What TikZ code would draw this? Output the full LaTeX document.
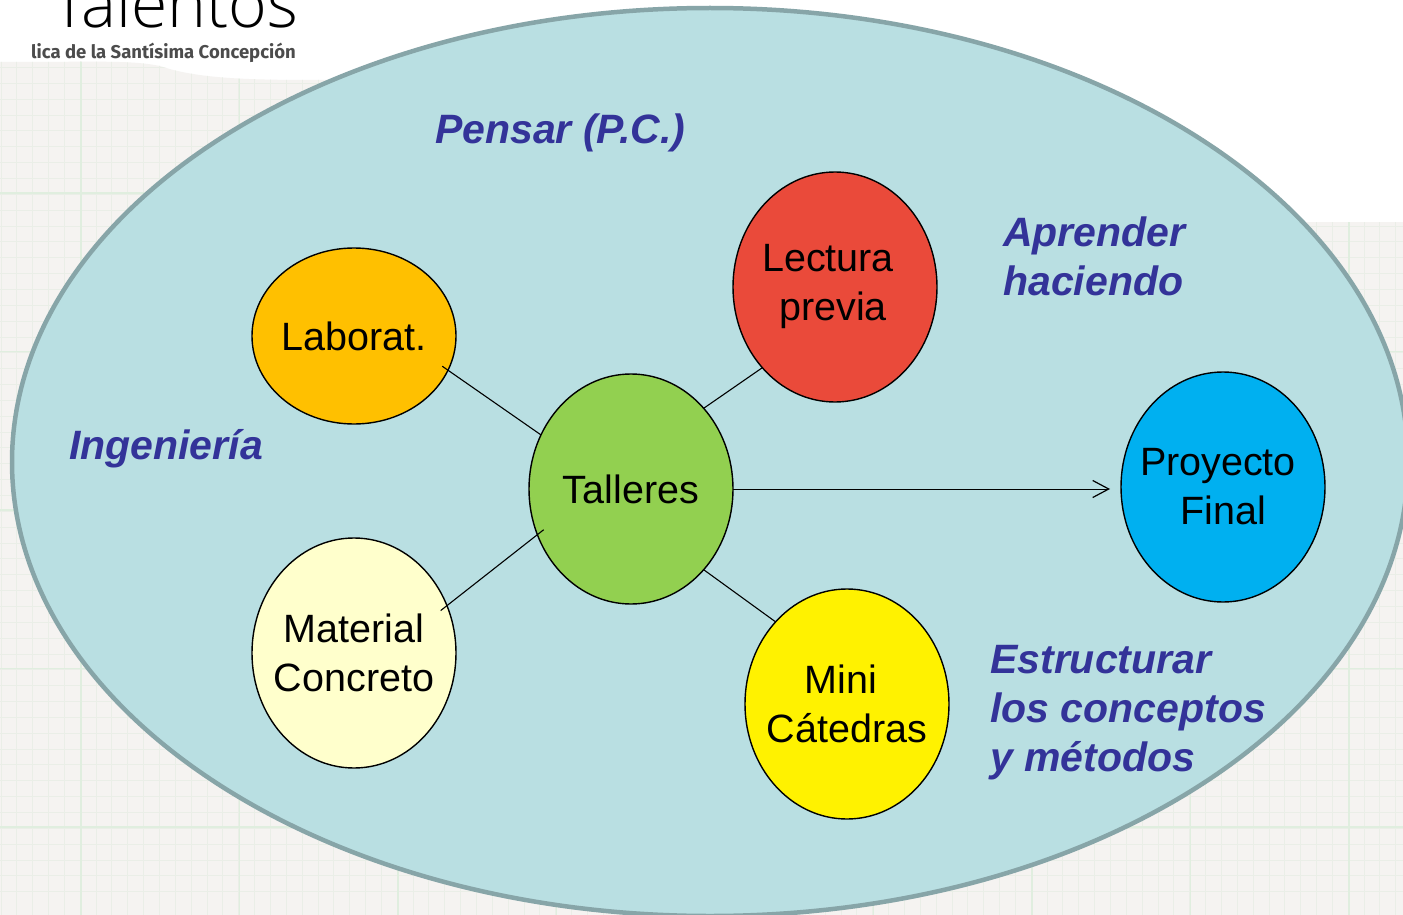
\documentclass[tikz,border=0pt]{standalone}
\usepackage{fontspec}
\setmainfont{Liberation Sans}
\newfontfamily\logofont{Open Sans Light}
\newfontfamily\subfont{Fira Sans}
\usetikzlibrary{shapes.geometric,arrows.meta}
\definecolor{paper}{HTML}{F5F3F1}
\definecolor{gridminor}{HTML}{EAEEE7}
\definecolor{gridmajor}{HTML}{E0EEDF}
\definecolor{pool}{HTML}{B9DFE2}
\definecolor{poolline}{HTML}{87A5A8}
\definecolor{labelblue}{HTML}{333399}
\tikzset{
  x=1pt,y=-1pt,
  bubble/.style={ellipse,draw=black,line width=1.4pt,minimum width=204pt,minimum height=230pt,inner sep=-40pt,outer sep=0pt,align=center,font=\fontsize{39.5}{49}\selectfont,text=black},
  note/.style={anchor=west,align=left,font=\fontsize{41}{49}\selectfont\bfseries\itshape,text=labelblue,inner sep=0pt},
  link/.style={line width=1.1pt,draw=black},
  flow/.style={line width=1pt,draw=black,-{Straight Barb[length=16pt,width=17pt,line width=1.2pt]}},
  gridm/.style={draw=gridminor,line width=1pt},
  gridM/.style={draw=gridmajor,line width=1.5pt},
}
\begin{document}
\begin{tikzpicture}
\useasboundingbox (0,0) rectangle (1403,915);
\clip (0,0) rectangle (1403,915);
\fill[white] (0,0) rectangle (1403,915);
% graph paper, left and bottom
\begin{scope}
\clip (0,62) .. controls (100,62) and (130,60) .. (160,66) .. controls (200,80) and (260,80) .. (330,80) -- (1403,80) -- (1403,915) -- (0,915) -- cycle;
\fill[paper] (0,60) rectangle (1403,915);
\foreach \gi in {0,...,90} \draw[gridm] (\gi*15.85+1,60) -- (\gi*15.85+1,915);
\foreach \gi in {0,...,55} \draw[gridm] (0,\gi*15.85+20) -- (1403,\gi*15.85+20);
\foreach \gi in {0,...,8} \draw[gridM] (\gi*158.5+81,60) -- (\gi*158.5+81,915);
\foreach \gi in {0,...,4} \draw[gridM] (0,\gi*158.5+193) -- (1403,\gi*158.5+193);
\end{scope}
% white patch top right of the paper
\fill[white] (330,0) rectangle (1403,222);
% logo
\node[anchor=base west,inner sep=0pt,font=\logofont\fontsize{66}{66}\selectfont,text=black] (logo) at (52,28) {Talentos};
\node[anchor=base east,inner sep=0pt,font=\subfont\fontsize{18.5}{20}\selectfont\bfseries,text=black!70] (sub) at (296,59) {lica de la Santísima Concepción};
% large pool
\node[ellipse,draw=poolline,fill=pool,line width=4.5pt,minimum width=1396pt,minimum height=908pt,inner sep=0pt,outer sep=0pt] (pool) at (710,462) {};
% bubbles
\node[bubble,fill={rgb,255:red,146;green,208;blue,80}] (tal) at (631,489) {\raisebox{-2pt}{Talleres}};
\node[bubble,fill={rgb,255:red,255;green,192;blue,0},minimum height=176pt] (lab) at (354,336) {\raisebox{-2pt}{Laborat.}};
\node[bubble,fill={rgb,255:red,234;green,74;blue,58}] (lec) at (835,287) {\raisebox{-6pt}{\hspace*{-14pt}Lectura}\\\raisebox{-6pt}{previa\hspace*{4pt}}};
\node[bubble,fill={rgb,255:red,255;green,255;blue,204}] (mat) at (354,653) {Material\\Concreto};
\node[bubble,fill=yellow] (min) at (847,704) {\hspace*{-12pt}Mini\\Cátedras};
\node[bubble,fill={rgb,255:red,0;green,176;blue,240}] (pro) at (1223,487) {\raisebox{-2pt}{\hspace*{-10pt}Proyecto}\\\raisebox{-2pt}{Final}};
% connectors
\draw[link,shorten <=-7pt] (lab.-20.8) -- (tal.149.5);
\draw[link] (tal.48) -- (lec.228.7);
\draw[link,shorten <=-8pt,shorten >=-8pt] (mat.27.5) -- (tal.206.3);
\draw[link] (tal.-48) -- (min.131.3);
\draw[flow,shorten >=11pt] (tal.east) -- (tal.east -| pro.west);
% notes
\node[note] (n1) at (435,133) {Pensar (P.C.)};
\node[note] (n2) at (1003,256) {Aprender\\haciendo};
\node[note] (n3) at (69,449) {Ingeniería};
\node[note] (n4) at (990,713) {Estructurar\\los conceptos\\y métodos};
\end{tikzpicture}
\end{document}
